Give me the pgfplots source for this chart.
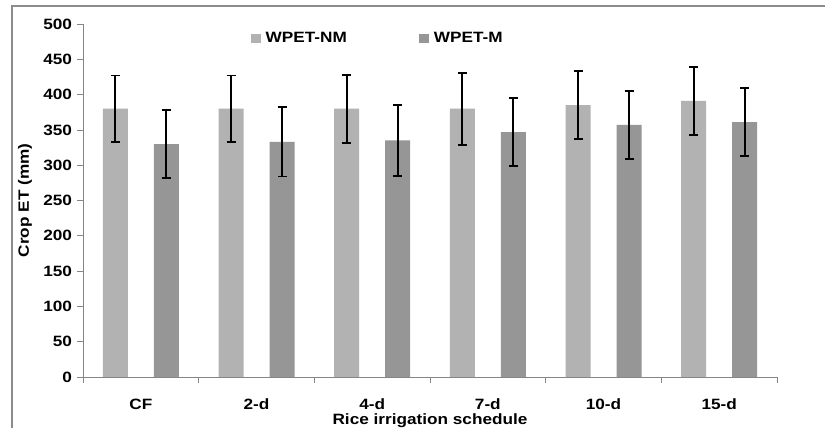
\documentclass[border=0pt]{standalone}
\usepackage{pgfplots}
\pgfplotsset{compat=1.18}
\usepackage{fontspec}
\setmainfont{Liberation Sans}[FakeStretch=1.15]
\definecolor{barNM}{HTML}{B2B2B2}
\definecolor{barM}{HTML}{969696}
\definecolor{axgray}{HTML}{868686}
\definecolor{framegray}{HTML}{8C8C8C}
\begin{document}
\begin{tikzpicture}
\useasboundingbox (0,0) rectangle (825bp,428bp);
\fill[white] (0,0) rectangle (825bp,428bp);
\draw[framegray, line width=2.5bp] (12bp,0) -- (12bp,422bp) -- (825bp,422bp);
\begin{axis}[
  at={(83bp,51bp)}, anchor=south west,
  scale only axis, width=694bp, height=353bp,
  xmin=-0.5, xmax=5.5, ymin=0, ymax=500,
  axis x line*=bottom, axis y line*=left,
  axis line style={-, axgray, line width=0.8bp},
  every tick/.style={axgray, line width=0.8bp},
  tick align=outside,
  major tick length=5.5bp,
  xtick={-0.5,0.5,1.5,2.5,3.5,4.5,5.5},
  xticklabels={},
  extra x ticks={0,1,2,3,4,5},
  extra x tick labels={CF,2-d,4-d,7-d,10-d,15-d},
  extra x tick style={major tick length=0pt},
  ytick={0,50,...,500},
  /pgf/number format/assume math mode=true,
  every tick label/.append style={font=\bfseries\fontsize{15}{15}\selectfont, text=black},
  xticklabel style={anchor=north, yshift=-18.5bp},
  yticklabel style={xshift=-2bp},
  xlabel={Rice irrigation schedule},
  ylabel={Crop ET (mm)},
  every axis x label/.style={at={(axis description cs:0.5,0)}, anchor=base, yshift=-47bp, font=\bfseries\fontsize{15}{15}\selectfont},
  every axis y label/.style={at={(axis description cs:-0.0836,0.5)}, rotate=90, anchor=center, font=\bfseries\fontsize{15}{15}\selectfont},
  ybar, bar width=25bp,
  legend columns=2,
  legend image code/.code={\fill[#1] (0bp,-4.5bp) rectangle (10bp,4.5bp);},
  legend style={draw=none, fill=none, at={(axis description cs:0.2417,0.96)}, anchor=west,
    font=\bfseries\fontsize{15}{15}\selectfont, inner sep=0pt, outer sep=0pt,
    nodes={inner sep=0pt}, cells={anchor=west},
    /tikz/every odd column/.append style={column sep=5bp},
    /tikz/every even column/.append style={column sep=72bp}},
]
\addplot[fill=barNM, draw=none, bar shift=-25.5bp,
  error bars/.cd, y dir=both, y explicit,
  error bar style={black, line width=1.8bp},
  error mark options={black, line width=1.8bp, mark size=4.5bp, rotate=90}]
  coordinates {(0,380) +- (0,47) (1,380) +- (0,47) (2,380) +- (0,48)
               (3,380) +- (0,51) (4,385) +- (0,48) (5,391) +- (0,48)};
\addlegendentry{WPET-NM}
\addplot[fill=barM, draw=none, bar shift=25.5bp,
  error bars/.cd, y dir=both, y explicit,
  error bar style={black, line width=1.8bp},
  error mark options={black, line width=1.8bp, mark size=4.5bp, rotate=90}]
  coordinates {(0,330) +- (0,48) (1,333) +- (0,49) (2,335) +- (0,50)
               (3,347) +- (0,48.5) (4,357) +- (0,48.5) (5,361) +- (0,48.5)};
\addlegendentry{WPET-M}
\end{axis}
\end{tikzpicture}
\end{document}
